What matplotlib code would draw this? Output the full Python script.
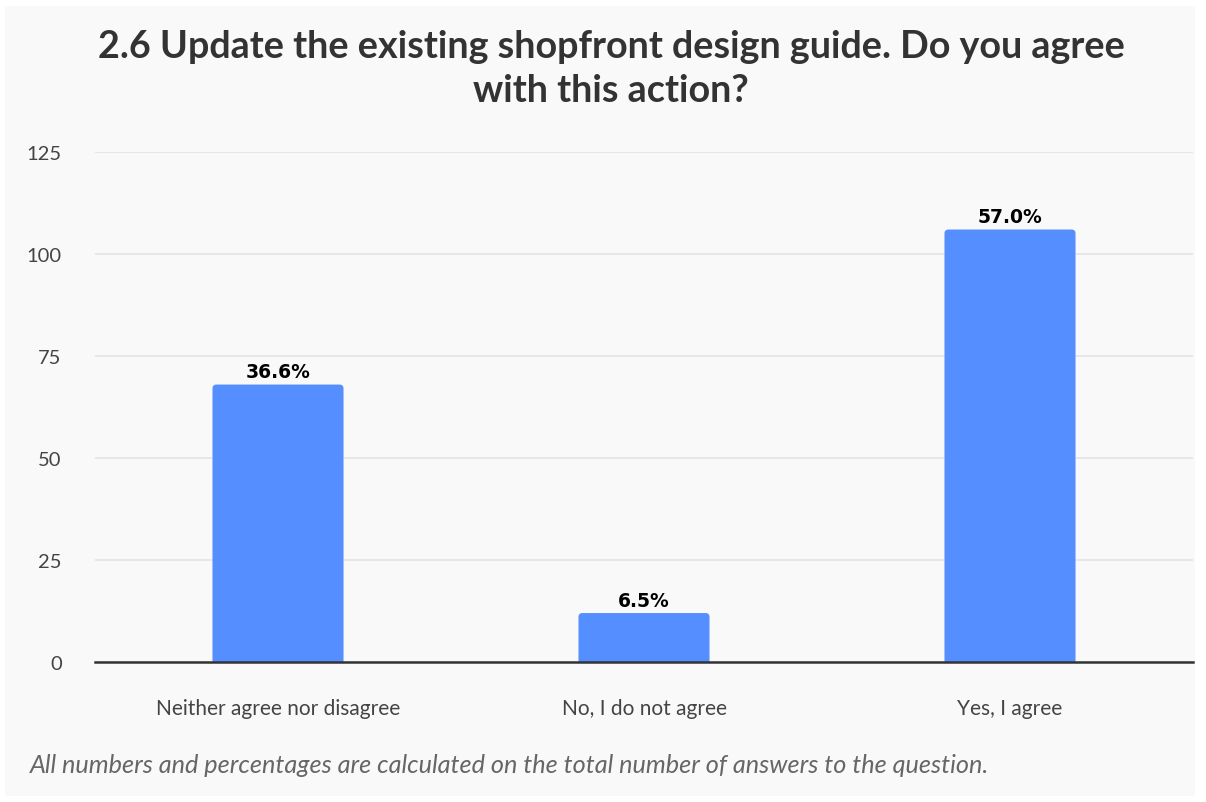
import matplotlib
matplotlib.use("Agg")
import matplotlib.pyplot as plt
from matplotlib.patches import Rectangle, FancyBboxPatch

categories = ["Neither agree nor disagree", "No, I do not agree", "Yes, I agree"]
counts = [68, 12, 106]
percent_labels = ["36.6%", "6.5%", "57.0%"]
y_ticks = [0, 25, 50, 75, 100, 125]

title = "2.6 Update the existing shopfront design guide. Do you agree\nwith this action?"
footnote = "All numbers and percentages are calculated on the total number of answers to the question."

W, H = 1206, 803
fig = plt.figure(figsize=(W / 100, H / 100), dpi=100)
fig.patch.set_facecolor("white")

# light panel behind the whole chart
fig.patches.append(Rectangle((5 / W, 1 - 797 / H), 1190 / W, 790 / H,
                             transform=fig.transFigure, facecolor="#f9f9f9",
                             edgecolor="none", zorder=-10))

ax_left, ax_top, ax_w, ax_h = 95, 153, 1098, 510
ax = fig.add_axes([ax_left / W, 1 - (ax_top + ax_h) / H, ax_w / W, ax_h / H])
ax.set_facecolor("none")

x = range(len(categories))
bar_width = 0.358
ymax = 125
ax.set_xlim(-0.5, len(categories) - 0.5)
ax.set_ylim(0, ymax)

bars = ax.bar(x, counts, width=bar_width, color="#558eff", zorder=3)

# swap the plain bars for versions with softly rounded top corners
radius_px = 4
x_per_px = len(categories) / ax_w
y_per_px = ymax / ax_h
r_x = radius_px * x_per_px
aspect = y_per_px / x_per_px
for rect in bars:
    rect.set_visible(False)
    extra = radius_px * y_per_px * 2
    ax.add_patch(FancyBboxPatch(
        (rect.get_x(), -extra), rect.get_width(), rect.get_height() + extra,
        boxstyle=f"round,pad=0,rounding_size={r_x}", mutation_aspect=aspect,
        facecolor="#558eff", edgecolor="none", zorder=3))

ax.set_yticks(y_ticks)
ax.set_yticklabels([str(t) for t in y_ticks])
ax.set_xticks(list(x))
ax.set_xticklabels(categories)

ax.grid(axis="y", color="#e4e4e4", linewidth=1.2, zorder=0)
ax.set_axisbelow(True)
for s in ["top", "right", "left"]:
    ax.spines[s].set_visible(False)
ax.spines["bottom"].set_color("#333333")
ax.spines["bottom"].set_linewidth(1.8)
ax.spines["bottom"].set_zorder(4)

ax.tick_params(axis="y", length=0, pad=24, labelsize=14.5, labelcolor="#444444")
ax.tick_params(axis="x", length=0, pad=26, labelsize=15, labelcolor="#444444")
for lab in ax.get_yticklabels() + ax.get_xticklabels():
    lab.set_fontfamily("Lato")

for rect, lbl in zip(bars, percent_labels):
    ax.annotate(lbl, (rect.get_x() + rect.get_width() / 2, rect.get_height()),
                xytext=(0, 2.5), textcoords="offset points", ha="center", va="bottom",
                fontsize=13.5, fontweight="bold", color="#000000",
                family="DejaVu Sans", zorder=5)

fig.text(611 / W, 1 - 69 / H, title, ha="center", va="center",
         fontsize=27.2, fontweight="bold", color="#333333", family="Lato",
         linespacing=1.33)

fig.text(30 / W, 1 - 766 / H, footnote, ha="left", va="center",
         fontsize=18.2, style="italic", color="#666666", family="Lato")

fig.savefig("out.png", dpi=100, facecolor=fig.get_facecolor())
